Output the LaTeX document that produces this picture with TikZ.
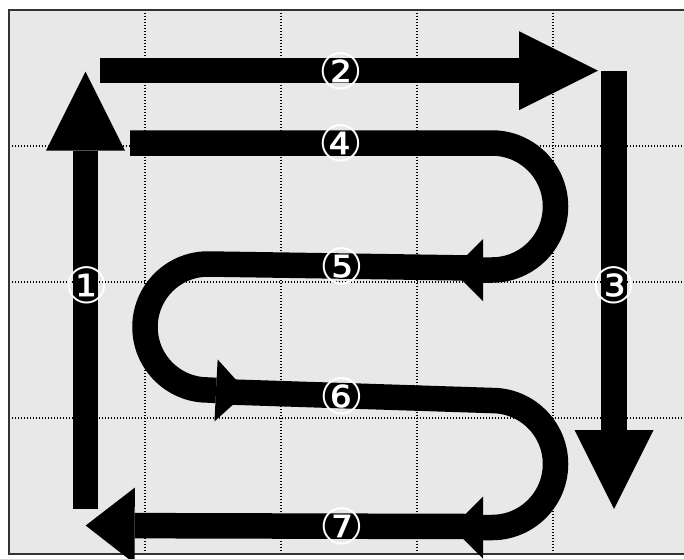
\documentclass[tikz,border=0pt]{standalone}
\usepackage{fontspec}
\newfontfamily\circfont{DejaVu Sans}
\usetikzlibrary{arrows.meta}
\definecolor{paper}{HTML}{E8E8E8}
\definecolor{frameink}{HTML}{333333}
\tikzset{
  fat/.style={line width=25.5pt,line cap=butt,line join=round},
  bighead/.style={-{Triangle[length=79pt,width=79pt,line width=0pt]}},
  lowhead/.style={-{Triangle[length=49pt,width=76pt,line width=0pt]}},
  smallhead/.style={-{Triangle[length=31pt,width=62pt,line width=0pt]}},
  gridline/.style={line width=1.2pt,dash pattern=on 1.2pt off 1.8pt},
  num/.style={text=white,inner sep=0pt,font=\circfont\fontsize{50}{50}\selectfont},
}
\begin{document}
\begin{tikzpicture}[x=1pt,y=-1pt]
  \useasboundingbox (0,0) rectangle (684,558);
  % paper and grid
  \fill[paper] (9,10) rectangle (684,554);
  \foreach \x in {145,281,417,553}
    \draw[gridline] (\x,10) -- (\x,554);
  \foreach \y in {146,282,418}
    \draw[gridline] (9,\y) -- (684,\y);
  \draw[frameink,line width=1.3pt] (686,10) -- (9,10) -- (9,554) -- (686,554);
  % outer arrows
  \draw[fat,bighead] (85.5,509) -- (85.5,71.7);
  \draw[fat,bighead] (100,70.7) -- (598,70.7);
  \draw[fat,bighead] (614,71) -- (614,509);
  % the S
  \draw[fat,smallhead] (130,143) -- (492,143) arc[start angle=-90,end angle=90,radius=63.5] -- (452,270);
  \draw[fat,smallhead] (470,268) -- (208,264) arc[start angle=-90,end angle=-270,radius=63] -- (247,392);
  \draw[fat,smallhead] (230,392) -- (492,400.5) arc[start angle=-90,end angle=90,radius=63.5] -- (452,527.5);
  \draw[fat,lowhead] (470,526.5) -- (85.7,525.5);
  % numbers
  \node[num] (n1) at (87,285) {①};
  \node[num] (n2) at (341,71) {②};
  \node[num] (n3) at (614,285) {③};
  \node[num] (n4) at (341,143) {④};
  \node[num] (n5) at (342,266) {⑤};
  \node[num] (n6) at (342,396) {⑥};
  \node[num] (n7) at (342,526) {⑦};
\end{tikzpicture}
\end{document}
